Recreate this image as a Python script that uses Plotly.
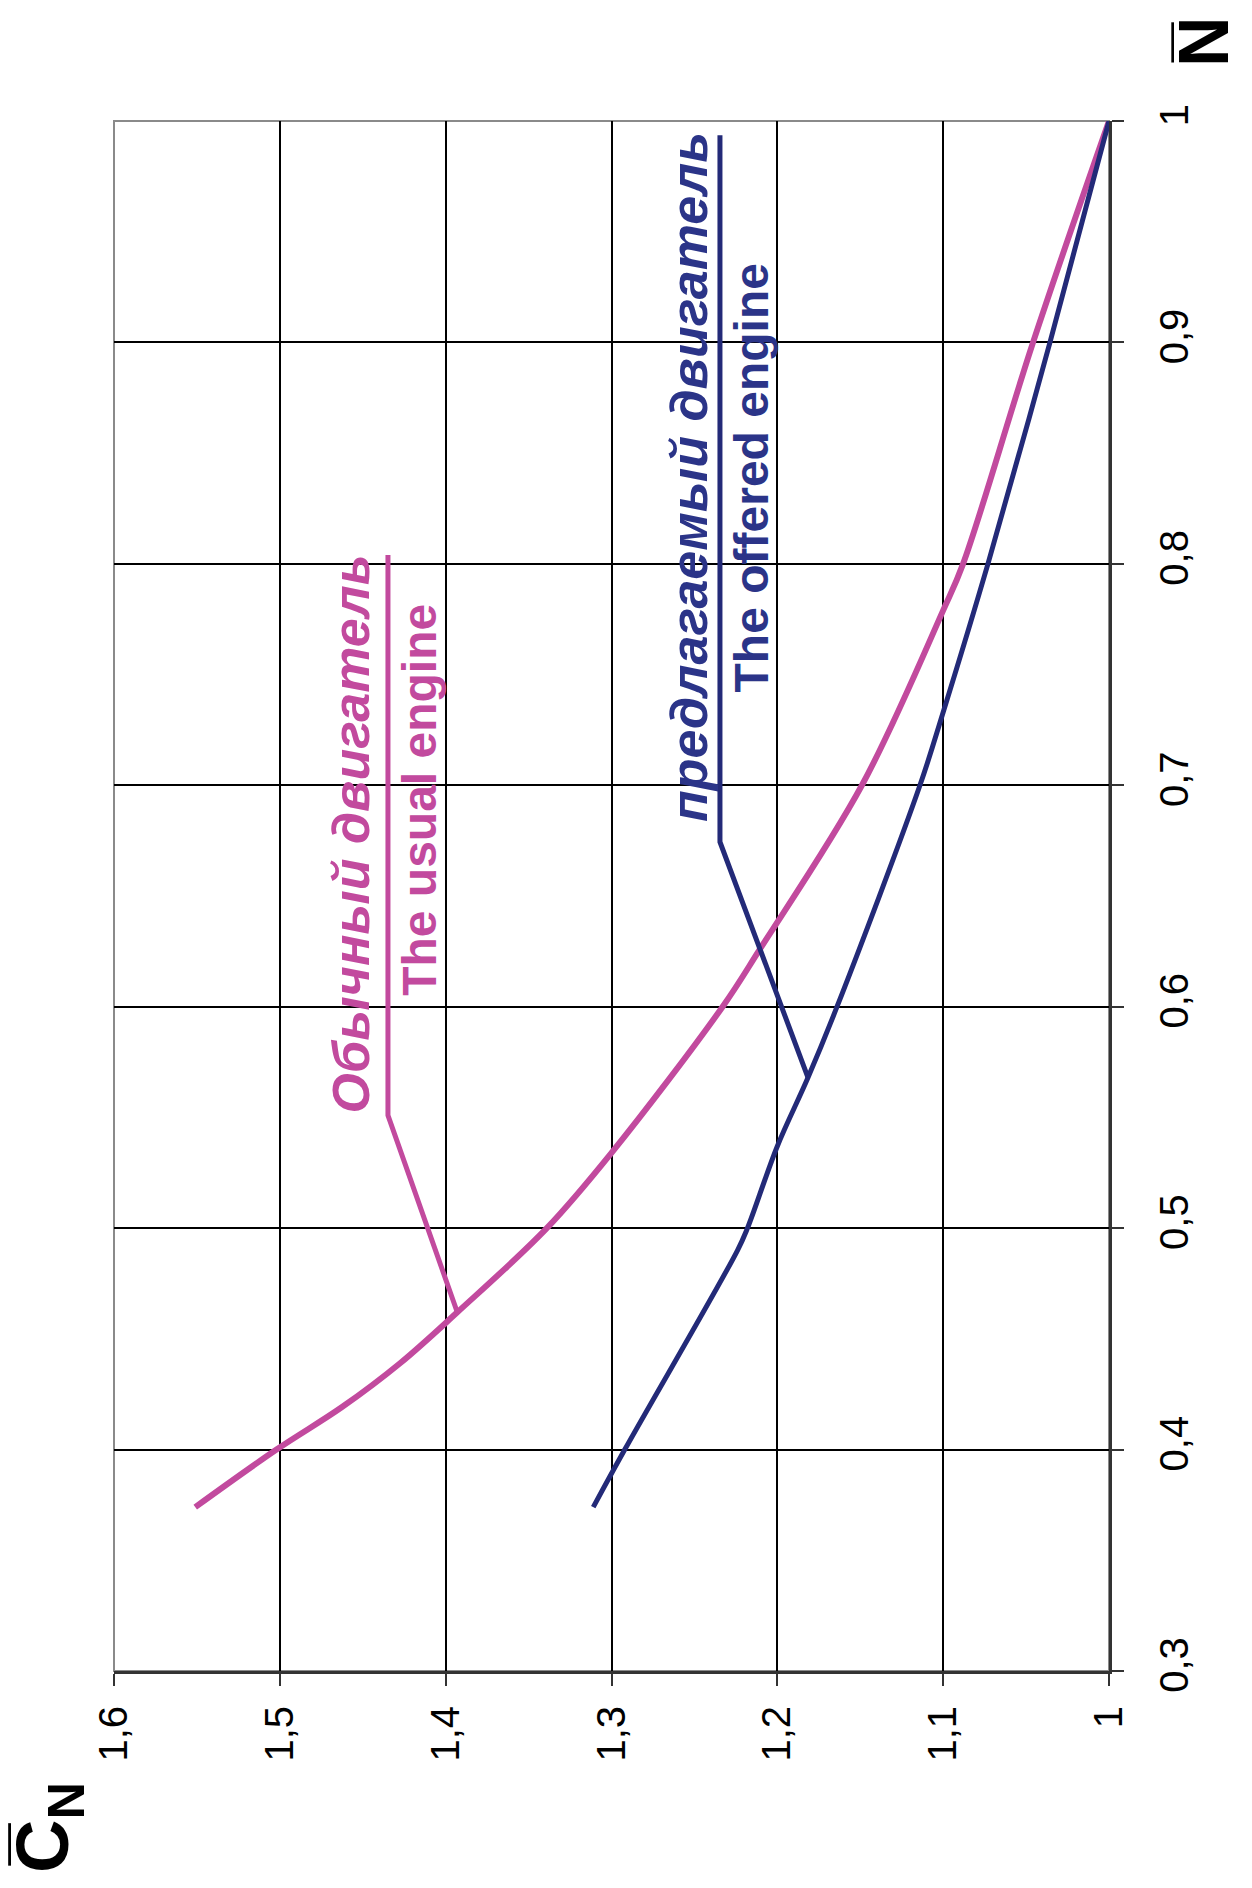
import plotly.graph_objects as go

# Usual engine (pink): C_N values vs N
usual_c = [1.551, 1.502, 1.4625, 1.4275, 1.393, 1.339, 1.300, 1.233, 1.2105, 1.149, 1.100, 1.088, 1.0458, 1.0]
usual_n = [0.374, 0.400, 0.4192, 0.439, 0.462, 0.500, 0.534, 0.600, 0.626, 0.700, 0.779, 0.800, 0.900, 1.0]

# Offered engine (blue)
offered_c = [1.311, 1.292, 1.224, 1.218, 1.200, 1.1815, 1.164, 1.114, 1.100, 1.073, 1.0356, 1.0]
offered_n = [0.374, 0.400, 0.490, 0.500, 0.537, 0.568, 0.600, 0.700, 0.733, 0.800, 0.900, 1.0]

# Leader lines for labels
usual_leader_c = [1.393, 1.4348, 1.4348]
usual_leader_n = [0.462, 0.551, 0.804]
offered_leader_c = [1.1815, 1.2346, 1.2346]
offered_leader_n = [0.568, 0.6744, 0.9936]

c_ticks = [1.0, 1.1, 1.2, 1.3, 1.4, 1.5, 1.6]
c_tick_text = ["1", "1,1", "1,2", "1,3", "1,4", "1,5", "1,6"]
n_ticks = [0.3, 0.4, 0.5, 0.6, 0.7, 0.8, 0.9, 1.0]
n_tick_text = ["0,3", "0,4", "0,5", "0,6", "0,7", "0,8", "0,9", "1"]

PINK = "#C24A9E"
BLUE = "#232A78"
BLUE_TXT = "#2B3488"
FONT = "Liberation Sans, Arial, sans-serif"

fig = go.Figure()
fig.add_trace(go.Scatter(x=usual_c, y=usual_n, mode="lines", line=dict(color=PINK, width=6, shape="spline", smoothing=1.0), showlegend=False))
fig.add_trace(go.Scatter(x=offered_c, y=offered_n, mode="lines", line=dict(color=BLUE, width=5, shape="spline", smoothing=1.0), showlegend=False))
fig.add_trace(go.Scatter(x=usual_leader_c, y=usual_leader_n, mode="lines", line=dict(color=PINK, width=5), showlegend=False))
fig.add_trace(go.Scatter(x=offered_leader_c, y=offered_leader_n, mode="lines", line=dict(color=BLUE, width=5), showlegend=False))

fig.update_layout(
    width=1252, height=1888,
    margin=dict(l=114, r=143, t=121, b=217),
    paper_bgcolor="white", plot_bgcolor="white",
    font=dict(family=FONT, color="black"),
)
fig.update_xaxes(
    range=[1.6, 1.0], tickvals=c_ticks, ticktext=c_tick_text, tickangle=-90,
    tickfont=dict(size=40, family=FONT, color="black"),
    showgrid=True, gridcolor="black", gridwidth=2,
    showline=True, linecolor="#333333", linewidth=3,
    ticks="outside", ticklen=12, tickwidth=2, tickcolor="#333333",
    ticklabelstandoff=4, zeroline=False,
)
fig.update_yaxes(
    range=[0.3, 1.0], tickvals=n_ticks, ticktext=n_tick_text, tickangle=-90, side="right",
    tickfont=dict(size=40, family=FONT, color="black"),
    showgrid=True, gridcolor="black", gridwidth=2,
    showline=True, linecolor="#333333", linewidth=3,
    ticks="outside", ticklen=12, tickwidth=2, tickcolor="#333333",
    ticklabelstandoff=16, zeroline=False,
)

# gray plot border (top/left)
fig.add_shape(type="rect", xref="paper", yref="paper", x0=0, y0=0, x1=1, y1=1,
              line=dict(color="#8a8a8a", width=2), layer="below")

ann = [
    dict(text="<b><i>Обычный двигатель</i></b>", x=1.4568, y=0.678, color=PINK, size=52),
    dict(text="<b>The usual engine</b>", x=1.4155, y=0.6934, color=PINK, size=48),
    dict(text="<b><i>предлагаемый двигатель</i></b>", x=1.2535, y=0.839, color=BLUE_TXT, size=52),
    dict(text="<b>The offered engine</b>", x=1.2153, y=0.839, color=BLUE_TXT, size=48),
]
for a in ann:
    fig.add_annotation(text=a["text"], x=a["x"], y=a["y"], xref="x", yref="y",
                       textangle=-90, showarrow=False, xanchor="center", yanchor="middle",
                       font=dict(size=a["size"], color=a["color"], family=FONT))

fig.add_annotation(text="<b>C\u0305<sub>N</sub></b>", xref="paper", yref="paper",
                   x=(48 - 114) / 995, y=-(1828 - 1671) / 1550, textangle=-90, showarrow=False,
                   xanchor="center", yanchor="middle",
                   font=dict(size=74, color="black", family=FONT))
fig.add_annotation(text="<b>N\u0305</b>", xref="paper", yref="paper",
                   x=(1204 - 114) / 995, y=1 + (121 - 42) / 1550, textangle=-90, showarrow=False,
                   xanchor="center", yanchor="middle",
                   font=dict(size=70, color="black", family=FONT))

fig.write_html("out.html")
